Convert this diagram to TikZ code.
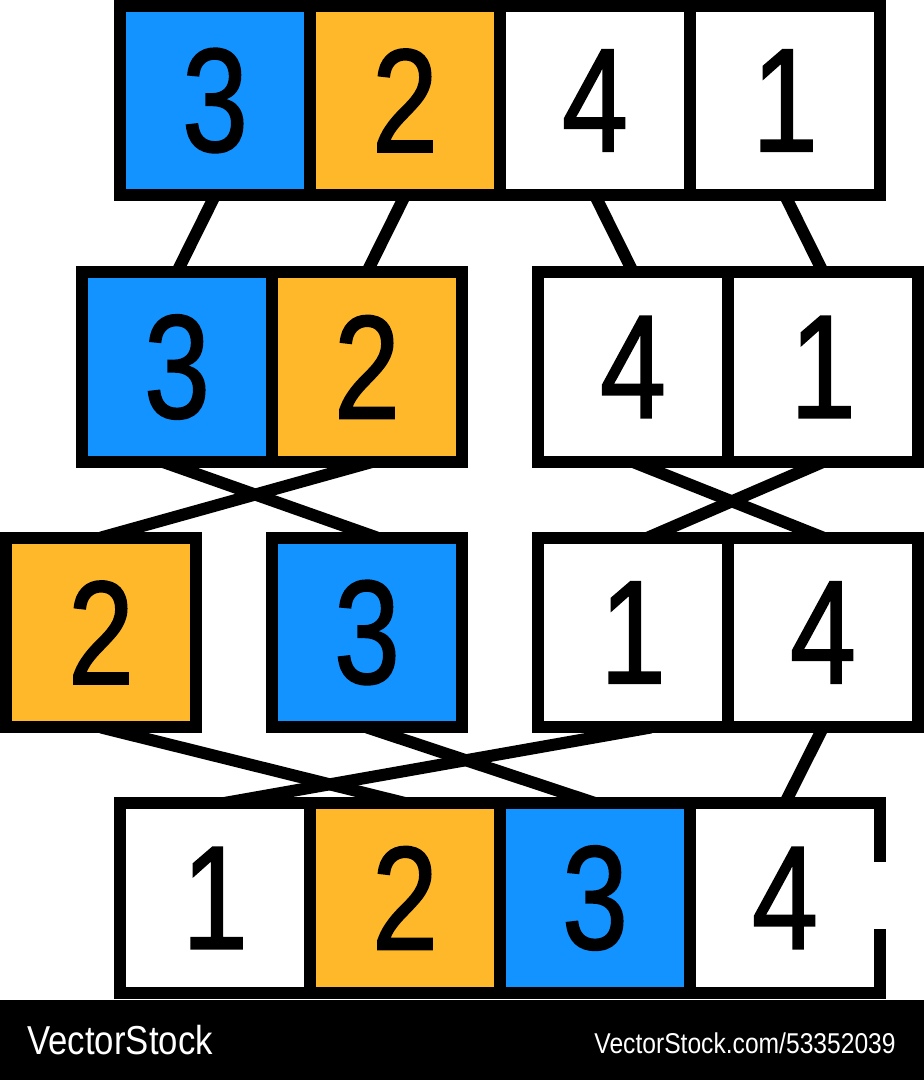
\documentclass[tikz,border=0pt]{standalone}
\usepackage{fontspec}
\setmainfont{Liberation Sans}
\newfontfamily\markfont{Liberation Sans}[FakeStretch=0.86]
\newfontfamily\digitfont{Liberation Sans}[FakeStretch=0.8, FakeBold=1.2]
\usepackage{tikz}
\usetikzlibrary{calc,backgrounds}
\definecolor{sortblue}{RGB}{18,147,255}
\definecolor{sortorange}{RGB}{254,184,42}

\begin{document}
\begin{tikzpicture}[x=0.02cm, y=-0.02cm,
  cell/.style={draw, fill=white, line width=0.24cm, minimum width=3.8cm, minimum height=3.8cm, inner sep=0pt, outer sep=0pt, font=\digitfont\fontsize{84}{84}\selectfont},
  link/.style={line width=0.24cm},
  stamp/.style={text=white, inner sep=0pt}
]
\useasboundingbox (0,0) rectangle (924,1080);
\fill[black] (0,1000) rectangle (924,1080);

% row 1: unsorted
\node[cell, fill=sortblue] (a1) at (215,100.5) {3};
\node[cell, fill=sortorange] (a2) at (405,100.5) {2};
\node[cell] (a3) at (595,100.5) {4};
\node[cell] (a4) at (785,100.5) {1};

% row 2: split in halves
\node[cell, fill=sortblue] (b1) at (177,367) {3};
\node[cell, fill=sortorange] (b2) at (367,367) {2};
\node[cell] (b3) at (633,367) {4};
\node[cell] (b4) at (823,367) {1};

% row 3: sorted halves
\node[cell, fill=sortorange] (c1) at (101,632.5) {2};
\node[cell, fill=sortblue] (c2) at (367,632.5) {3};
\node[cell] (c3) at (633,632.5) {1};
\node[cell] (c4) at (823,632.5) {4};

% row 4: merged
\node[cell] (d1) at (215,898) {1};
\node[cell, fill=sortorange] (d2) at (405,898) {2};
\node[cell, fill=sortblue] (d3) at (595,898) {3};
\node[cell] (d4) at (785,898) {4};
\fill[white] (873,862) rectangle (887,929);

\begin{scope}[on background layer]
\draw[link] (a1.south) -- (b1.north);
\draw[link] (a2.south) -- (b2.north);
\draw[link] (a3.south) -- (b3.north);
\draw[link] (a4.south) -- (b4.north);
\draw[link] ($(b1.south)+(-14,0)$) -- ($(c2.north)+(10,0)$);
\draw[link] ($(b2.south)+(5,0)$) -- (c1.north);
\draw[link] (b3.south) -- (c4.north);
\draw[link] (b4.south) -- ($(c3.north)+(15,0)$);
\draw[link] (c1.south) -- (d2.north);
\draw[link] (c2.south) -- (d3.north);
\draw[link] ($(c3.south)+(18,0)$) -- ($(d1.north)+(9,0)$);
\draw[link] (c4.south) -- (d4.north);
\end{scope}

\node[stamp, anchor=west, font=\markfont\fontsize{23}{23}\selectfont] (brand) at (27,1040) {VectorStock};
\node[stamp, anchor=east, font=\markfont\fontsize{16.3}{16.3}\selectfont] (ref) at (896,1043) {VectorStock.com/53352039};
\end{tikzpicture}
\end{document}
